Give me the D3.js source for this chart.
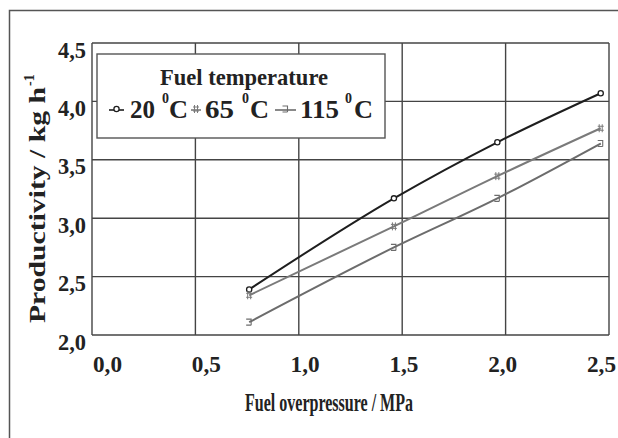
<!DOCTYPE html>
<html>
<head>
<meta charset="utf-8">
<script src="https://cdn.jsdelivr.net/npm/d3@7"></script>
<style>
  html, body { margin: 0; padding: 0; background: #fff; }
  svg text { font-family: "Liberation Serif", "DejaVu Serif", serif; font-weight: bold; fill: #222; }
</style>
</head>
<body>
<svg id="chart"></svg>
<script>
// ── Data ────────────────────────────────────────────────────────────────────
const pressure = [0.76, 1.46, 1.96, 2.46];           // MPa
const prod20   = [2.39, 3.17, 3.65, 4.07];           // kg/h at 20 °C
const prod65   = [2.34, 2.93, 3.36, 3.77];           // kg/h at 65 °C
const prod115  = [2.11, 2.75, 3.17, 3.64];           // kg/h at 115 °C
const seriesNames = ['20', '65', '115'];
const xTicks = [0, 0.5, 1.0, 1.5, 2.0, 2.5];
const yTicks = [2.0, 2.5, 3.0, 3.5, 4.0, 4.5];

const W = 618, H = 438;
const plot = { left: 92, top: 43, right: 609, bottom: 335 };

const svg = d3.select('#chart').attr('width', W).attr('height', H);

// outer frame (runs past the right/bottom edge of the photo)
svg.append('rect')
  .attr('x', 9.5).attr('y', 10.5)
  .attr('width', W + 20).attr('height', H + 20)
  .attr('fill', 'none').attr('stroke', '#555').attr('stroke-width', 1.5);

const x = d3.scaleLinear().domain([0, 2.5]).range([plot.left, plot.right]);
const y = d3.scaleLinear().domain([2.0, 4.5]).range([plot.bottom, plot.top]);
// tick labels in the original sit on a slightly narrower spacing than the grid
const xLab = d3.scaleLinear().domain([0, 2.5]).range([107, 601]);
const fmt = d => d3.format('.1f')(d).replace('.', ',');

// ── Grid ────────────────────────────────────────────────────────────────────
const grid = svg.append('g').attr('stroke', '#444').attr('stroke-width', 1.4);
grid.selectAll('line.v').data(xTicks).join('line')
  .attr('x1', d => x(d)).attr('x2', d => x(d))
  .attr('y1', plot.top).attr('y2', plot.bottom);
grid.selectAll('line.h').data(yTicks).join('line')
  .attr('x1', plot.left).attr('x2', plot.right)
  .attr('y1', d => y(d)).attr('y2', d => y(d));

// ── Tick labels (tall, condensed look of the original) ──────────────────────
svg.append('g').selectAll('text').data(xTicks).join('text')
  .attr('x', d => xLab(d) - 14).attr('y', 372)
  .attr('font-size', 23)
  .attr('textLength', 29).attr('lengthAdjust', 'spacingAndGlyphs')
  .text(fmt);

const yAxis = svg.append('g')
  .attr('transform', `translate(${plot.left},0)`)
  .call(d3.axisLeft(y).tickValues(yTicks).tickFormat(fmt).tickSize(0).tickPadding(6));
yAxis.select('.domain').remove();
yAxis.selectAll('text')
  .attr('font-size', 23).attr('font-family', '"Liberation Serif", serif')
  .attr('font-weight', 'bold').attr('fill', '#222')
  .attr('textLength', 28).attr('lengthAdjust', 'spacingAndGlyphs')
  .attr('dy', 14);

// ── Axis titles ─────────────────────────────────────────────────────────────
svg.append('text')
  .attr('x', 245).attr('y', 411)
  .attr('font-size', 26)
  .attr('textLength', 168).attr('lengthAdjust', 'spacingAndGlyphs')
  .text('Fuel overpressure / MPa');

const yt = svg.append('text')
  .attr('transform', 'translate(45,323) rotate(-90)')
  .attr('font-size', 24);
yt.append('tspan').attr('textLength', 236).attr('lengthAdjust', 'spacingAndGlyphs')
  .text('Productivity / kg h');
yt.append('tspan').attr('dy', -11).attr('dx', 1).attr('font-size', 14).text('-1');

// ── Series ──────────────────────────────────────────────────────────────────
const series = [
  { vals: prod20,  color: '#1e1e1e', mark: 'circle' },
  { vals: prod65,  color: '#7a7a7a', mark: 'hash' },
  { vals: prod115, color: '#6c6c6c', mark: 'bracket' },
];

const line = d3.line()
  .x((d, i) => x(pressure[i]))
  .y(d => y(d))
  .curve(d3.curveMonotoneX);

function drawMark(g, kind, cx, cy, color) {
  if (kind === 'circle') {
    g.append('circle').attr('cx', cx).attr('cy', cy).attr('r', 2.6)
      .attr('fill', '#fff').attr('stroke', color).attr('stroke-width', 1.3);
  } else if (kind === 'hash') {
    const p = `M${cx - 3},${cy - 2}h6M${cx - 3},${cy + 2}h6M${cx - 1.5},${cy - 4}v8M${cx + 1.5},${cy - 4}v8`;
    g.append('path').attr('d', p).attr('fill', 'none').attr('stroke', color).attr('stroke-width', 1);
  } else {
    const p = `M${cx - 3},${cy - 3}h5v6M${cx - 3},${cy + 3}h5`;
    g.append('path').attr('d', p).attr('fill', 'none').attr('stroke', color).attr('stroke-width', 1.1);
  }
}

series.forEach(s => {
  svg.append('path').datum(s.vals)
    .attr('d', line).attr('fill', 'none')
    .attr('stroke', s.color).attr('stroke-width', 2);
  const g = svg.append('g');
  s.vals.forEach((v, i) => drawMark(g, s.mark, x(pressure[i]), y(v), s.color));
});

// ── Legend box ──────────────────────────────────────────────────────────────
const leg = svg.append('g');
leg.append('rect')
  .attr('x', 97).attr('y', 54).attr('width', 288).attr('height', 84)
  .attr('fill', '#fff').attr('stroke', '#555').attr('stroke-width', 1.4);
leg.append('text')
  .attr('x', 160).attr('y', 85)
  .attr('font-size', 24)
  .attr('textLength', 168).attr('lengthAdjust', 'spacingAndGlyphs')
  .text('Fuel temperature');

// marker span, number start/width, superscript "0" x, "C" x
const legPos = [
  { m0: 109, m1: 124, n: 130, nw: 25, o: 162, c: 169 },
  { m0: 191, m1: 201, n: 205, nw: 29, o: 242, c: 250 },
  { m0: 275, m1: 296, n: 300, nw: 39, o: 345, c: 354 },
];
seriesNames.forEach((name, i) => {
  const s = series[i], p = legPos[i], ly = 110;
  leg.append('line').attr('x1', p.m0).attr('x2', p.m1).attr('y1', ly).attr('y2', ly)
    .attr('stroke', s.color).attr('stroke-width', 1.6);
  drawMark(leg, s.mark, (p.m0 + p.m1) / 2, ly - 1, s.color);
  leg.append('text').attr('x', p.n).attr('y', 118).attr('font-size', 25)
    .attr('textLength', p.nw).attr('lengthAdjust', 'spacingAndGlyphs')
    .text(name);
  leg.append('text').attr('x', p.o).attr('y', 103).attr('font-size', 14)
    .attr('font-weight', 'normal').text('0');
  leg.append('text').attr('x', p.c).attr('y', 118).attr('font-size', 25)
    .attr('font-weight', 'normal')
    .attr('textLength', 19).attr('lengthAdjust', 'spacingAndGlyphs')
    .text('C');
});
</script>
</body>
</html>
